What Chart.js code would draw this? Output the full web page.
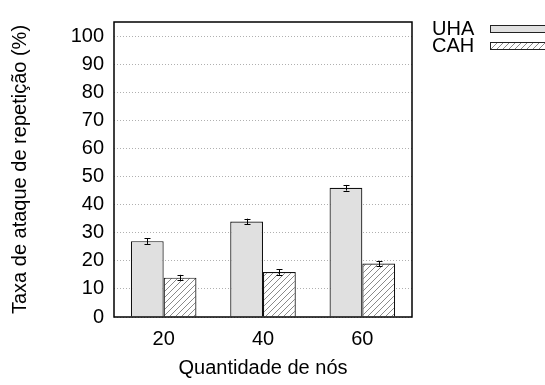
<!DOCTYPE html>
<html>
<head>
<meta charset="utf-8">
<script src="https://cdn.jsdelivr.net/npm/chart.js@4"></script>
<style>
  html, body { margin: 0; padding: 0; background: #fff; }
  #wrap { width: 545px; height: 385px; }
</style>
</head>
<body>
<div id="wrap"><canvas id="barChart" width="545" height="385"></canvas></div>
<script>
const categories = ["20", "40", "60"];
const seriesNames = ["UHA", "CAH"];
const uhaValues = [27, 34, 46];
const cahValues = [14, 16, 19];
const uhaErrors = [1, 1, 1];
const cahErrors = [1, 1, 1];
const yTicks = [0, 10, 20, 30, 40, 50, 60, 70, 80, 90, 100];

const FONT = "'Liberation Sans', Arial, sans-serif";

// hatch pattern for CAH
function makeHatch() {
  const c = document.createElement("canvas");
  c.width = 6; c.height = 6;
  const g = c.getContext("2d");
  g.fillStyle = "#fff";
  g.fillRect(0, 0, 6, 6);
  g.strokeStyle = "#8a8a8a";
  g.lineWidth = 1;
  g.beginPath();
  g.moveTo(-1, 7); g.lineTo(7, -1);
  g.moveTo(-4, 4); g.lineTo(4, -4);
  g.moveTo(2, 10); g.lineTo(10, 2);
  g.stroke();
  return g.createPattern(c, "repeat");
}

const ctx = document.getElementById("barChart").getContext("2d");
const hatch = makeHatch();
const fills = ["#e0e0e0", hatch];

const errorBars = {
  id: "errorBars",
  afterDatasetsDraw(chart) {
    const c = chart.ctx;
    const y = chart.scales.y;
    const errs = [uhaErrors, cahErrors];
    c.save();
    c.strokeStyle = "#000";
    c.lineWidth = 1;
    chart.data.datasets.forEach((ds, i) => {
      chart.getDatasetMeta(i).data.forEach((bar, j) => {
        const v = ds.data[j];
        const top = y.getPixelForValue(v + errs[i][j]);
        const bot = y.getPixelForValue(v - errs[i][j]);
        const x = Math.round(bar.x) + 0.5;
        c.beginPath();
        c.moveTo(x, top); c.lineTo(x, bot);
        c.moveTo(x - 3, Math.round(top) + 0.5); c.lineTo(x + 3, Math.round(top) + 0.5);
        c.moveTo(x - 3, Math.round(bot) + 0.5); c.lineTo(x + 3, Math.round(bot) + 0.5);
        c.stroke();
      });
    });
    c.restore();
  }
};

const frameAndLegend = {
  id: "frameAndLegend",
  afterDraw(chart) {
    const c = chart.ctx;
    const a = chart.chartArea;
    c.save();
    c.strokeStyle = "#000";
    c.lineWidth = 1.5;
    c.strokeRect(a.left, a.top, a.right - a.left, a.bottom - a.top);
    // legend
    c.font = "20px " + FONT;
    c.textBaseline = "middle";
    seriesNames.forEach((name, i) => {
      const cy = 29 + i * 17;
      c.fillStyle = "#000";
      c.fillText(name, 432, cy);
      c.fillStyle = fills[i];
      c.fillRect(490, cy - 4, 60, 8);
      c.lineWidth = 1;
      c.strokeStyle = "#222";
      c.strokeRect(490.5, cy - 3.5, 60, 7);
    });
    c.restore();
  }
};

new Chart(ctx, {
  type: "bar",
  data: {
    labels: categories,
    datasets: [
      { label: seriesNames[0], data: uhaValues, backgroundColor: fills[0], borderColor: "#111", borderWidth: 1.2 },
      { label: seriesNames[1], data: cahValues, backgroundColor: fills[1], borderColor: "#111", borderWidth: 1.2 },
    ],
  },
  options: {
    responsive: false,
    animation: false,
    layout: { padding: { top: 16, right: 133, left: 0, bottom: 0 } },
    datasets: { bar: { categoryPercentage: 0.66, barPercentage: 1.0 } },
    plugins: {
      legend: { display: false },
      tooltip: { enabled: false },
    },
    scales: {
      x: {
        grid: { display: false, drawTicks: false },
        border: { display: false },
        ticks: { color: "#000", font: { size: 20, family: FONT }, padding: 10 },
        title: { display: true, text: "Quantidade de nós", color: "#000", font: { size: 20, family: FONT }, padding: { top: 4, bottom: 5 } },
        afterFit(s) { s.height = 68; },
      },
      y: {
        min: 0,
        max: 105,
        afterBuildTicks(s) { s.ticks = yTicks.map(v => ({ value: v })); },
        ticks: { color: "#000", font: { size: 20, family: FONT }, padding: 10 },
        grid: { color: "#b0b0b0", drawTicks: false, lineWidth: 1 },
        border: { display: false, dash: [1, 2] },
        title: { display: true, text: "Taxa de ataque de repetição (%)", color: "#000", font: { size: 20, family: FONT }, padding: { top: 8, bottom: 0 } },
        afterFit(s) { s.width = 114; },
      },
    },
  },
  plugins: [errorBars, frameAndLegend],
});
</script>
</body>
</html>
